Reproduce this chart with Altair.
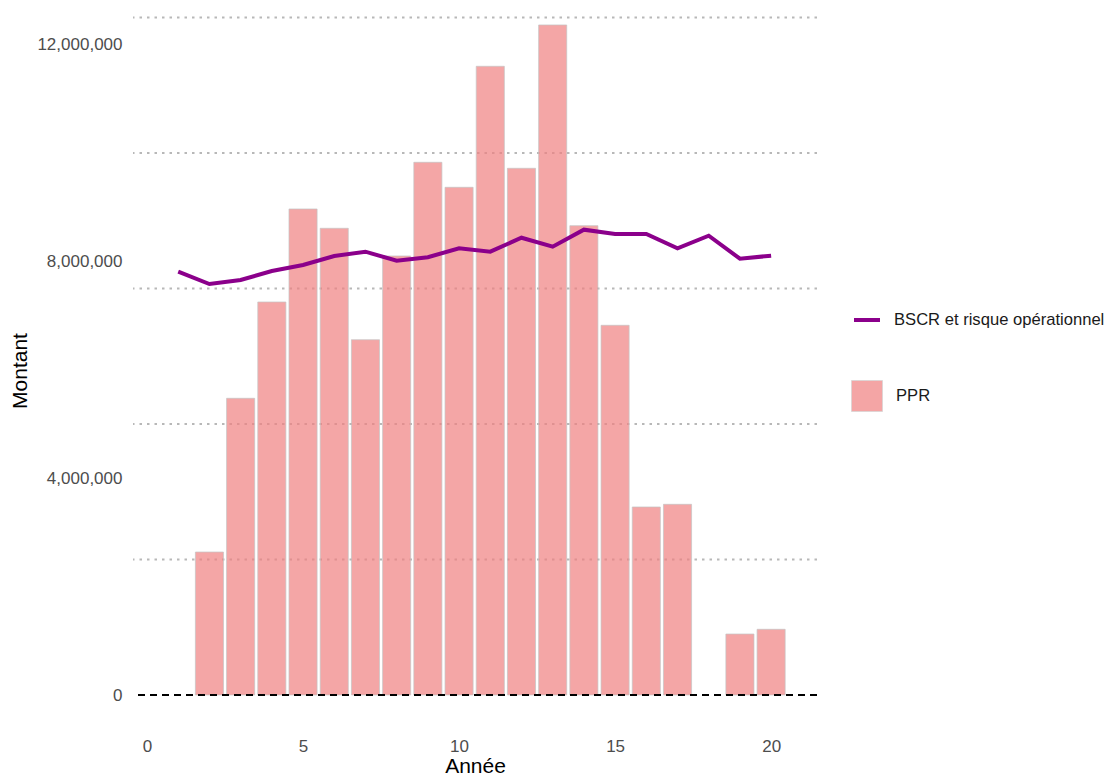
import altair as alt
import pandas as pd

# ---- data ----
years = list(range(1, 21))
ppr = [None, 2.638e6, 5.474e6, 7.251e6, 8.967e6, 8.611e6, 6.555e6, 8.100e6, 9.828e6, 9.367e6,
       11.600e6, 9.718e6, 12.362e6, 8.659e6, 6.821e6, 3.469e6, 3.518e6, None, 1.125e6, 1.212e6]
bscr = [7.810e6, 7.583e6, 7.657e6, 7.823e6, 7.934e6, 8.100e6, 8.179e6, 8.013e6, 8.076e6, 8.242e6,
        8.179e6, 8.437e6, 8.271e6, 8.585e6, 8.506e6, 8.506e6, 8.242e6, 8.474e6, 8.050e6, 8.105e6]
grid_values = [2.5e6, 5.0e6, 7.5e6, 10.0e6, 12.5e6]
y_tick_values = [0, 4e6, 8e6, 12e6]
x_tick_values = [0, 5, 10, 15, 20]
line_label = "BSCR et risque opérationnel"
bar_label = "PPR"

FONT = "Liberation Sans"
X_DOMAIN = [-0.449, 21.47]
Y_DOMAIN = [-0.701e6, 12.675e6]
W, H = 684, 725

bars_df = pd.DataFrame({"year": years, "ppr": ppr, "serie": bar_label}).dropna()
line_df = pd.DataFrame({"year": years, "bscr": bscr, "serie": line_label})
grid_df = pd.DataFrame({"g": grid_values})
zero_df = pd.DataFrame({"z": [0.0]})

xscale = alt.Scale(domain=X_DOMAIN, zero=False, nice=False)
yscale = alt.Scale(domain=Y_DOMAIN, zero=False, nice=False)

x_axis = alt.Axis(values=x_tick_values, title="Année", grid=False, domain=False, ticks=False,
                  labelPadding=5, titlePadding=1, format="d")
y_axis = alt.Axis(values=y_tick_values, title="Montant", grid=False, domain=False, ticks=False,
                  labelPadding=11, titlePadding=6, format=",.0f")

grid = alt.Chart(grid_df).mark_rule(color="#b8b8b8", strokeDash=[2.5, 5], strokeWidth=2.2).encode(
    y=alt.Y("g:Q", scale=yscale, axis=y_axis)
)

bars = alt.Chart(bars_df).transform_calculate(
    x0="datum.year - 0.45", x1="datum.year + 0.45"
).mark_bar(fillOpacity=0.7, stroke="#c4c4c4", strokeOpacity=1, strokeWidth=0.7).encode(
    x=alt.X("x0:Q", scale=xscale, axis=x_axis),
    x2="x1:Q",
    y=alt.Y("ppr:Q", scale=yscale, axis=y_axis),
    y2=alt.datum(0),
    fill=alt.Fill("serie:N", scale=alt.Scale(domain=[bar_label], range=["#F08080"]),
                  legend=alt.Legend(title=None, orient="none", legendX=718, legendY=372,
                                    symbolType="square", symbolSize=961, symbolOpacity=0.7,
                                    symbolStrokeColor="#c4c4c4", symbolStrokeWidth=0.7,
                                    labelOffset=13, padding=0)),
)

line = alt.Chart(line_df).mark_line(strokeWidth=4).encode(
    x=alt.X("year:Q", scale=xscale, axis=x_axis),
    y=alt.Y("bscr:Q", scale=yscale, axis=y_axis),
    stroke=alt.Stroke("serie:N", scale=alt.Scale(domain=[line_label], range=["#8B008B"]),
                      legend=alt.Legend(title=None, orient="none", legendX=719, legendY=297,
                                        symbolType="stroke", symbolSize=676, symbolStrokeWidth=4,
                                        labelOffset=12, padding=0)),
)

zero = alt.Chart(zero_df).mark_rule(color="black", strokeDash=[7, 5], strokeWidth=2).encode(
    y=alt.Y("z:Q", scale=yscale, axis=y_axis)
)

chart = alt.layer(grid, bars, line, zero).resolve_scale(fill="independent", stroke="independent").properties(
    width=W, height=H,
    autosize=alt.AutoSizeParams(type="none"),
    padding={"left": 125, "top": 0, "right": 290, "bottom": 43},
).configure_view(stroke=None).configure_axis(
    labelFont=FONT, labelFontSize=17, labelColor="#4d4d4d",
    titleFont=FONT, titleFontSize=21, titleColor="#000000", titleFontWeight="normal",
).configure_legend(
    labelFont=FONT, labelFontSize=16.6, labelColor="#1a1a1a", labelLimit=400,
)

chart.save("out.html", embed_options={"renderer": "svg", "actions": False})
